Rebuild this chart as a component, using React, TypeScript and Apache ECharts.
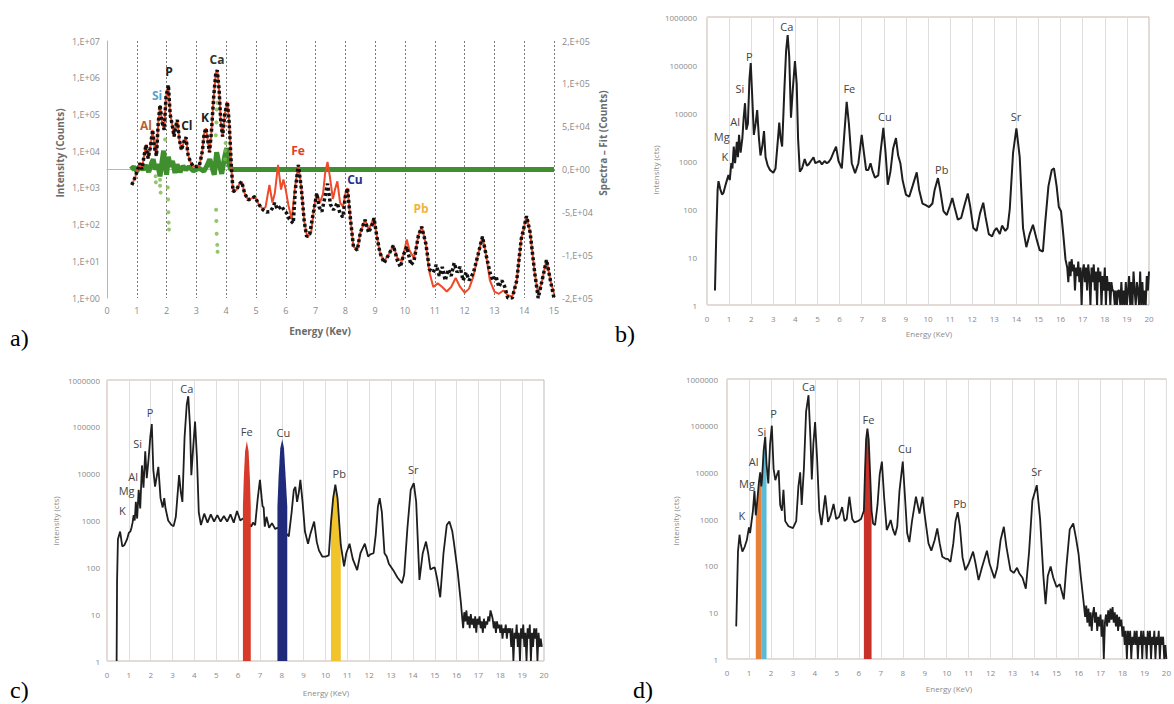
import React, { useEffect, useRef } from 'react';
import * as echarts from 'echarts';

// ---------- Panel a: measured spectrum, fit, residual ----------
const aMeasured: number[][] = [
  [0.83, 1200], [0.9, 1600], [0.95, 2000], [1.02, 3000], [1.1, 4700], [1.17, 3200], [1.24, 7000], [1.31, 15000],
  [1.38, 6300], [1.45, 12000], [1.53, 38000], [1.6, 12000], [1.66, 7400], [1.72, 60000], [1.78, 180000], [1.85, 60000],
  [1.92, 38000], [1.98, 300000], [2.06, 630000], [2.12, 100000], [2.18, 57000], [2.25, 25000], [2.3, 45000], [2.36, 71000],
  [2.43, 20000], [2.5, 10700], [2.58, 18000], [2.65, 24000], [2.72, 8000], [2.8, 5100], [2.9, 3800], [3.0, 3800],
  [3.1, 4000], [3.2, 10000], [3.26, 30000], [3.32, 42000], [3.38, 20000], [3.44, 9300], [3.5, 30000], [3.58, 300000],
  [3.65, 1300000], [3.7, 1600000], [3.76, 500000], [3.82, 60000], [3.88, 25000], [3.95, 100000], [4.04, 220000], [4.1, 60000],
  [4.18, 3100], [4.23, 790], [4.35, 900], [4.45, 1300], [4.52, 1480], [4.62, 700], [4.74, 470], [4.85, 520],
  [4.96, 575], [5.1, 350], [5.24, 250], [5.35, 220], [5.47, 225], [5.55, 280], [5.63, 390], [5.72, 260],
  [5.86, 320], [5.95, 240], [6.03, 205], [6.12, 140], [6.25, 108], [6.32, 900], [6.42, 4200], [6.52, 1000],
  [6.62, 120], [6.7, 47], [6.8, 55], [6.92, 200], [7.04, 710], [7.12, 300], [7.21, 225], [7.3, 500],
  [7.4, 1300], [7.5, 350], [7.6, 250], [7.73, 390], [7.82, 200], [7.92, 160], [8.0, 600], [8.07, 980],
  [8.15, 200], [8.27, 25], [8.4, 20], [8.5, 60], [8.66, 135], [8.78, 60], [8.9, 100], [8.96, 150],
  [9.05, 50], [9.16, 17], [9.3, 9], [9.45, 15], [9.61, 27], [9.75, 10], [9.85, 7], [9.95, 15],
  [10.06, 25], [10.2, 8], [10.3, 10], [10.45, 50], [10.56, 87], [10.7, 30], [10.82, 6], [10.95, 5],
  [11.05, 8], [11.15, 4], [11.25, 7], [11.35, 3], [11.45, 6], [11.55, 4], [11.65, 9], [11.75, 5],
  [11.85, 7], [11.95, 3], [12.05, 5], [12.15, 3], [12.3, 5], [12.45, 15], [12.6, 47], [12.72, 15],
  [12.85, 5], [12.95, 3], [13.05, 4], [13.15, 2], [13.25, 3], [13.35, 2], [13.45, 1], [13.6, 1],
  [13.75, 3], [13.9, 40], [14.08, 170], [14.2, 60], [14.35, 5], [14.47, 1], [14.6, 3], [14.75, 11],
  [14.88, 3], [15.0, 1]
];
const aFit: number[][] = [
  [0.83, 1200], [0.9, 1600], [0.95, 2000], [1.02, 3000], [1.1, 4700], [1.17, 3200], [1.24, 7000], [1.31, 15000],
  [1.38, 6300], [1.45, 12000], [1.53, 38000], [1.6, 12000], [1.66, 7400], [1.72, 60000], [1.78, 180000], [1.85, 60000],
  [1.92, 38000], [1.98, 300000], [2.06, 630000], [2.12, 100000], [2.18, 57000], [2.25, 25000], [2.3, 45000], [2.36, 71000],
  [2.43, 20000], [2.5, 10700], [2.58, 18000], [2.65, 24000], [2.72, 8000], [2.8, 5100], [2.9, 3800], [3.0, 3800],
  [3.1, 4000], [3.2, 10000], [3.26, 30000], [3.32, 42000], [3.38, 20000], [3.44, 9300], [3.5, 30000], [3.58, 300000],
  [3.65, 1300000], [3.7, 1600000], [3.76, 500000], [3.82, 60000], [3.88, 25000], [3.95, 100000], [4.04, 220000], [4.1, 60000],
  [4.18, 3100], [4.23, 790], [4.35, 900], [4.45, 1300], [4.52, 1480], [4.62, 700], [4.74, 470], [4.85, 520],
  [4.96, 575], [5.1, 350], [5.24, 260], [5.32, 300], [5.45, 1200], [5.55, 400], [5.63, 700], [5.74, 4200],
  [5.84, 900], [5.92, 1700], [6.0, 870], [6.1, 300], [6.2, 140], [6.3, 900], [6.42, 4200], [6.52, 1000],
  [6.62, 120], [6.72, 45], [6.85, 60], [6.95, 300], [7.04, 710], [7.15, 400], [7.25, 700], [7.32, 2500],
  [7.4, 5100], [7.48, 2000], [7.58, 500], [7.65, 900], [7.73, 1500], [7.82, 400], [7.92, 300], [8.0, 700],
  [8.07, 980], [8.15, 200], [8.27, 25], [8.4, 21], [8.5, 60], [8.66, 135], [8.78, 70], [8.9, 120],
  [8.96, 150], [9.05, 50], [9.16, 17], [9.3, 10], [9.45, 15], [9.61, 27], [9.75, 12], [9.9, 10],
  [10.06, 39], [10.15, 20], [10.3, 12], [10.45, 50], [10.56, 90], [10.7, 30], [10.82, 5], [10.95, 2],
  [11.1, 2.5], [11.25, 2], [11.4, 1.5], [11.55, 2], [11.7, 3.5], [11.85, 2], [12.0, 1.4], [12.15, 1.8],
  [12.3, 4], [12.45, 15], [12.6, 47], [12.72, 15], [12.85, 3], [13.0, 1.5], [13.15, 1.3], [13.3, 1.6],
  [13.45, 1.2], [13.6, 1.1], [13.75, 3], [13.9, 40], [14.08, 170], [14.2, 60], [14.35, 5], [14.47, 1.2],
  [14.6, 3], [14.75, 11], [14.88, 3], [15.0, 1.3]
];
const aResidual: number[][] = [
  [0.8, 0], [0.9, 3000], [1.0, -2000], [1.1, 4000], [1.2, 0], [1.3, 5000], [1.4, -3000], [1.5, 8000],
  [1.55, 12000], [1.62, 0], [1.7, 6000], [1.78, -8000], [1.85, 10000], [1.9, 22000], [1.95, 5000], [2.0, -6000],
  [2.06, 15000], [2.12, 3000], [2.2, 10000], [2.28, -4000], [2.35, 6000], [2.45, -3000], [2.55, 4000], [2.65, 0],
  [2.75, 3000], [2.9, -1500], [3.1, 1500], [3.25, -2000], [3.35, 4000], [3.45, 12000], [3.52, 3000], [3.6, -6000],
  [3.68, 20000], [3.75, 8000], [3.85, -5000], [3.95, 15000], [4.02, 25000], [4.08, 8000], [4.15, 0], [15.0, 0]
];
const aResidualDots: number[][] = [
  [1.63, -8000], [1.64, -15000], [1.78, -12000], [1.78, -19000], [1.8, -27000], [1.95, 35000],
  [2.04, -21000], [2.05, -35000], [2.06, -50000], [2.07, -62000], [2.08, -70000],
  [3.65, 40000], [3.67, 55000], [3.68, 70000], [3.7, 78000],
  [3.66, -47000], [3.67, -60000], [3.68, -75000], [3.7, -88000], [3.71, -96000],
  [3.96, 12000], [3.97, 22000], [3.98, 31000]
];
const aPeakLabels = [
  { name: 'Al', value: [1.31, 51000], color: '#b8642e' },
  { name: 'Si', value: [1.68, 320000], color: '#5aa0d0' },
  { name: 'P', value: [2.08, 1450000], color: '#222222' },
  { name: 'Cl', value: [2.68, 49000], color: '#222222' },
  { name: 'K', value: [3.29, 85000], color: '#222222' },
  { name: 'Ca', value: [3.69, 3200000], color: '#333333' },
  { name: 'Fe', value: [6.41, 10700], color: '#e04028' },
  { name: 'Cu', value: [8.32, 1650], color: '#23318f' },
  { name: 'Pb', value: [10.54, 268], color: '#f0b43c' }
];
const aRightTickLabels: Record<string, string> = {
  '150000': '2,E+05', '100000': '1,E+05', '50000': '5,E+04', '0': '0,E+00',
  '-50000': '-5,E+04', '-100000': '-1,E+05', '-150000': '-2,E+05'
};

// ---------- Panel b ----------
const bPeaks: number[][] = [
  [0.36, 2], [0.42, 30], [0.48, 250], [0.52, 380], [0.6, 260], [0.68, 200], [0.75, 220], [0.85, 330],
  [0.97, 510], [1.03, 400], [1.1, 900], [1.15, 700], [1.21, 2000], [1.27, 900], [1.35, 2500], [1.4, 1200],
  [1.45, 3500], [1.52, 1500], [1.6, 3000], [1.66, 8000], [1.72, 16000], [1.78, 4500], [1.85, 6000], [1.92, 50000],
  [1.98, 110000], [2.05, 20000], [2.12, 3500], [2.2, 6000], [2.27, 11500], [2.35, 3000], [2.42, 1300], [2.5, 2000],
  [2.58, 4200], [2.65, 1200], [2.75, 800], [2.85, 650], [3.0, 570], [3.1, 700], [3.2, 2500], [3.27, 6300],
  [3.33, 3000], [3.4, 2000], [3.5, 30000], [3.58, 200000], [3.65, 420000], [3.72, 150000], [3.8, 8000], [3.88, 30000],
  [3.98, 120000], [4.06, 40000], [4.12, 3000], [4.2, 600], [4.3, 700], [4.42, 1100], [4.52, 800], [4.6, 850],
  [4.7, 1000], [4.82, 1200], [4.9, 900], [5.0, 950], [5.1, 1000], [5.2, 850], [5.32, 1000], [5.42, 900],
  [5.5, 950], [5.6, 1100], [5.72, 1500], [5.84, 2000], [5.95, 1000], [6.1, 700], [6.2, 3000], [6.32, 17000],
  [6.42, 6000], [6.55, 900], [6.7, 560], [6.85, 900], [7.0, 3500], [7.1, 1500], [7.2, 650], [7.3, 650],
  [7.4, 900], [7.5, 600], [7.6, 450], [7.75, 500], [7.85, 1500], [7.98, 4900], [8.08, 1500], [8.18, 320],
  [8.3, 600], [8.42, 1800], [8.55, 3000], [8.65, 1300], [8.75, 900], [8.85, 400], [9.0, 200], [9.15, 180],
  [9.3, 300], [9.49, 580], [9.6, 250], [9.75, 130], [9.9, 120], [10.05, 110], [10.2, 130], [10.3, 250],
  [10.45, 440], [10.55, 250], [10.7, 90], [10.85, 75], [11.0, 120], [11.1, 170], [11.2, 110], [11.35, 60],
  [11.5, 65], [11.65, 120], [11.8, 210], [11.9, 120], [12.05, 40], [12.2, 35], [12.35, 80], [12.5, 135],
  [12.6, 70], [12.75, 30], [12.9, 27], [13.0, 35], [13.1, 40], [13.25, 30], [13.35, 45], [13.5, 35],
  [13.6, 40], [13.7, 100], [13.85, 1500], [14.0, 4800], [14.15, 1200], [14.3, 40], [14.45, 16], [14.6, 30],
  [14.75, 47], [14.9, 25], [15.05, 14], [15.2, 13], [15.3, 50], [15.45, 300], [15.6, 650], [15.7, 700],
  [15.82, 300], [15.92, 110], [16.02, 90], [16.12, 30], [16.22, 9]
];
const bNoise: number[][] = [
  [16.3, 6], [16.35, 3], [16.4, 8], [16.45, 4], [16.5, 9], [16.55, 5], [16.6, 7], [16.65, 2], [16.7, 6], [16.75, 4],
  [16.8, 8], [16.85, 3], [16.9, 6], [16.95, 1], [17.0, 5], [17.05, 7], [17.1, 3], [17.15, 6], [17.2, 2], [17.25, 7],
  [17.3, 4], [17.35, 1], [17.4, 6], [17.45, 3], [17.5, 7], [17.55, 2], [17.6, 5], [17.65, 1], [17.7, 6], [17.75, 3],
  [17.8, 5], [17.85, 1], [17.9, 4], [17.95, 2], [18.0, 6], [18.05, 1], [18.1, 4], [18.15, 2], [18.2, 3], [18.25, 1],
  [18.3, 3], [18.35, 2], [18.4, 2], [18.45, 1], [18.5, 2], [18.55, 1], [18.6, 2], [18.65, 2], [18.7, 1], [18.75, 3],
  [18.8, 1], [18.85, 2], [18.9, 1], [18.95, 3], [19.0, 1], [19.05, 2], [19.1, 4], [19.15, 1], [19.2, 3], [19.25, 1],
  [19.3, 5], [19.35, 2], [19.4, 1], [19.45, 3], [19.5, 2], [19.55, 1], [19.6, 5], [19.65, 1], [19.7, 3], [19.75, 1],
  [19.8, 2], [19.85, 1], [19.9, 4], [19.95, 2], [20.0, 5]
];
const bPeakLabels = [
  { name: 'Ca', value: [3.61, 630000] }, { name: 'P', value: [1.91, 148000] }, { name: 'Si', value: [1.49, 33000] },
  { name: 'Al', value: [1.27, 6600] }, { name: 'Mg', value: [0.67, 3200] }, { name: 'K', value: [0.81, 1230] },
  { name: 'Fe', value: [6.44, 32600] }, { name: 'Cu', value: [8.05, 8400] }, { name: 'Pb', value: [10.62, 650] },
  { name: 'Sr', value: [13.98, 8400] }
];

// ---------- Panel c ----------
const cPeaks: number[][] = [
  [0.44, 1], [0.46, 50], [0.5, 400], [0.6, 580], [0.7, 280], [0.8, 300], [0.92, 400], [1.0, 550],
  [1.07, 580], [1.12, 700], [1.17, 900], [1.22, 1300], [1.27, 1000], [1.32, 2500], [1.38, 1100], [1.45, 4500],
  [1.52, 1800], [1.6, 15000], [1.67, 5000], [1.75, 30000], [1.82, 8000], [1.9, 20000], [1.98, 60000], [2.05, 115000],
  [2.12, 12000], [2.2, 5300], [2.28, 9000], [2.35, 14000], [2.45, 3000], [2.55, 1900], [2.62, 3000], [2.68, 1800],
  [2.8, 1000], [2.95, 800], [3.05, 760], [3.15, 1200], [3.3, 9300], [3.38, 4000], [3.45, 2500], [3.55, 60000],
  [3.65, 300000], [3.72, 450000], [3.8, 100000], [3.86, 9300], [3.95, 40000], [4.03, 130000], [4.12, 20000], [4.2, 1500],
  [4.3, 800], [4.45, 1400], [4.6, 900], [4.75, 1350], [4.9, 950], [5.05, 1300], [5.2, 950], [5.35, 1250],
  [5.5, 950], [5.65, 1350], [5.8, 900], [5.95, 1600], [6.1, 1000], [6.22, 1100], [6.4, 1000], [6.6, 740],
  [6.68, 900], [6.78, 800], [6.9, 3000], [7.0, 7400], [7.08, 3000], [7.12, 2000], [7.17, 1900], [7.22, 740],
  [7.3, 1200], [7.42, 700], [7.55, 880], [7.7, 660], [7.8, 700], [8.0, 600], [8.25, 500], [8.32, 460],
  [8.45, 1500], [8.55, 4500], [8.62, 5200], [8.7, 2500], [8.78, 4000], [8.85, 7400], [8.95, 2500], [9.06, 580],
  [9.2, 320], [9.3, 500], [9.48, 950], [9.6, 350], [9.7, 230], [9.85, 170], [10.0, 170], [10.15, 180],
  [10.25, 900], [10.35, 3000], [10.45, 5800], [10.55, 3000], [10.7, 300], [10.85, 105], [10.95, 200], [11.1, 320],
  [11.25, 150], [11.45, 87], [11.6, 200], [11.8, 320], [11.95, 170], [12.05, 190], [12.2, 200], [12.3, 500],
  [12.4, 2000], [12.48, 3000], [12.58, 1500], [12.7, 200], [12.8, 170], [12.9, 120], [13.1, 87], [13.3, 60],
  [13.5, 46], [13.6, 70], [13.75, 700], [13.9, 4500], [14.04, 6300], [14.15, 2500], [14.3, 54], [14.45, 200],
  [14.6, 355], [14.7, 200], [14.8, 90], [14.9, 96], [15.0, 100], [15.1, 60], [15.25, 23], [15.4, 200],
  [15.55, 800], [15.67, 950], [15.8, 600], [15.88, 330], [16.05, 80], [16.2, 17]
];
const cNoise: number[][] = [
  [16.25, 9], [16.3, 5], [16.35, 11], [16.4, 7], [16.45, 12], [16.5, 6], [16.55, 9], [16.6, 5], [16.65, 10], [16.7, 6],
  [16.75, 8], [16.8, 5], [16.85, 9], [16.9, 4], [16.95, 8], [17.0, 6], [17.05, 9], [17.1, 5], [17.15, 7], [17.2, 4],
  [17.25, 8], [17.3, 5], [17.35, 7], [17.4, 6], [17.45, 9], [17.5, 7], [17.55, 12], [17.6, 10], [17.65, 8], [17.7, 5],
  [17.75, 7], [17.8, 4], [17.85, 7], [17.9, 5], [17.95, 6], [18.0, 4], [18.05, 6], [18.1, 3], [18.15, 5], [18.2, 4],
  [18.25, 6], [18.3, 3], [18.35, 5], [18.4, 4], [18.45, 5], [18.5, 2], [18.55, 5], [18.6, 1], [18.65, 4], [18.7, 3],
  [18.75, 6], [18.8, 2], [18.85, 4], [18.9, 1], [18.95, 5], [19.0, 3], [19.05, 6], [19.1, 2], [19.15, 4], [19.2, 1],
  [19.25, 5], [19.3, 3], [19.35, 6], [19.4, 1], [19.45, 4], [19.5, 2], [19.55, 5], [19.6, 3], [19.65, 5], [19.7, 1],
  [19.75, 4], [19.8, 2], [19.85, 3], [19.9, 2]
];
const cFeBand: number[][] = [
  [6.22, 1], [6.22, 2000], [6.26, 8000], [6.32, 30000], [6.4, 50000], [6.48, 30000], [6.54, 8000], [6.58, 2000], [6.58, 1]
];
const cCuBand: number[][] = [
  [7.8, 1], [7.8, 2000], [7.85, 8000], [7.93, 35000], [8.02, 54000], [8.1, 35000], [8.18, 8000], [8.25, 2000], [8.25, 1]
];
const cPbBand: number[][] = [
  [10.25, 1], [10.25, 900], [10.35, 3000], [10.45, 5800], [10.55, 3000], [10.7, 300], [10.7, 1]
];
const cPeakLabels = [
  { name: 'Ca', value: [3.65, 670000] }, { name: 'P', value: [1.97, 203000] }, { name: 'Si', value: [1.4, 43000] },
  { name: 'Al', value: [1.2, 8700] }, { name: 'Mg', value: [0.9, 4360] }, { name: 'K', value: [0.7, 1630] },
  { name: 'Fe', value: [6.39, 79000] }, { name: 'Cu', value: [8.07, 74000] }, { name: 'Pb', value: [10.63, 10200] },
  { name: 'Sr', value: [14.02, 12500] }
];

// ---------- Panel d ----------
const dPeaks: number[][] = [
  [0.42, 5], [0.5, 200], [0.57, 460], [0.62, 300], [0.7, 200], [0.8, 250], [0.9, 350], [1.0, 660],
  [1.05, 500], [1.12, 900], [1.18, 1500], [1.25, 4000], [1.31, 1200], [1.38, 2500], [1.45, 6000], [1.51, 10000],
  [1.56, 5000], [1.58, 6000], [1.6, 8000], [1.67, 30000], [1.74, 58000], [1.8, 15000], [1.88, 5800], [1.96, 40000],
  [2.04, 100000], [2.12, 12000], [2.2, 6800], [2.28, 9000], [2.35, 11000], [2.42, 2000], [2.5, 1500], [2.57, 4200],
  [2.65, 900], [2.8, 700], [3.0, 640], [3.15, 900], [3.25, 5000], [3.33, 10000], [3.4, 2000], [3.5, 12000],
  [3.6, 200000], [3.71, 450000], [3.8, 50000], [3.86, 7000], [3.93, 40000], [4.01, 120000], [4.1, 20000], [4.2, 1500],
  [4.3, 740], [4.47, 3200], [4.6, 870], [4.72, 1200], [4.85, 2100], [4.97, 1000], [5.1, 1100], [5.24, 1800],
  [5.35, 900], [5.45, 1000], [5.57, 3000], [5.7, 1000], [5.8, 850], [5.95, 900], [6.1, 1000], [6.23, 1500],
  [6.28, 10000], [6.33, 50000], [6.39, 87000], [6.45, 50000], [6.52, 8000], [6.58, 1500], [6.65, 800], [6.74, 740],
  [6.85, 2000], [6.95, 9000], [7.05, 17000], [7.15, 3000], [7.27, 580], [7.35, 700], [7.45, 950], [7.55, 600],
  [7.65, 450], [7.75, 700], [7.85, 4000], [8.0, 17000], [8.1, 3000], [8.2, 500], [8.3, 320], [8.42, 900],
  [8.6, 3000], [8.68, 2000], [8.76, 1300], [8.9, 3000], [9.0, 1200], [9.17, 300], [9.3, 210], [9.45, 350],
  [9.57, 630], [9.68, 300], [9.8, 155], [9.95, 140], [10.05, 140], [10.17, 120], [10.3, 300], [10.4, 900],
  [10.5, 1400], [10.6, 700], [10.72, 150], [10.85, 80], [11.0, 110], [11.2, 200], [11.3, 120], [11.45, 49],
  [11.6, 90], [11.83, 210], [11.95, 110], [12.17, 54], [12.3, 90], [12.45, 350], [12.6, 680], [12.72, 250],
  [12.9, 80], [13.05, 70], [13.2, 90], [13.3, 69], [13.45, 55], [13.6, 32], [13.75, 200], [13.9, 2500],
  [14.1, 5300], [14.25, 1000], [14.4, 60], [14.5, 15], [14.6, 60], [14.73, 96], [14.85, 55], [15.0, 35],
  [15.15, 40], [15.33, 19], [15.45, 100], [15.6, 600], [15.76, 800], [15.88, 400], [16.0, 180], [16.1, 60],
  [16.24, 15]
];
const dNoise: number[][] = [
  [16.3, 8], [16.35, 14], [16.4, 6], [16.45, 12], [16.5, 5], [16.55, 10], [16.6, 4], [16.65, 9], [16.7, 13], [16.75, 6],
  [16.8, 10], [16.85, 4], [16.9, 8], [16.95, 5], [17.0, 9], [17.05, 3], [17.1, 7], [17.15, 1], [17.2, 6], [17.25, 9],
  [17.3, 5], [17.35, 11], [17.4, 6], [17.45, 12], [17.5, 7], [17.55, 13], [17.6, 6], [17.65, 10], [17.7, 5], [17.75, 9],
  [17.8, 4], [17.85, 8], [17.9, 5], [17.95, 7], [18.0, 3], [18.05, 5], [18.1, 2], [18.15, 4], [18.2, 1], [18.25, 4],
  [18.3, 2], [18.35, 4], [18.4, 1], [18.45, 3], [18.5, 2], [18.55, 4], [18.6, 2], [18.65, 4], [18.7, 1], [18.75, 3],
  [18.8, 2], [18.85, 4], [18.9, 1], [18.95, 4], [19.0, 2], [19.05, 3], [19.1, 1], [19.15, 4], [19.2, 2], [19.25, 4],
  [19.3, 1], [19.35, 3], [19.4, 2], [19.45, 4], [19.5, 1], [19.55, 3], [19.6, 2], [19.65, 4], [19.7, 1], [19.75, 3],
  [19.8, 2], [19.85, 3], [19.9, 1], [19.95, 2], [20.0, 1]
];
const dAlBand: number[][] = [
  [1.31, 1], [1.31, 1200], [1.38, 2500], [1.45, 6000], [1.51, 10000], [1.56, 5000], [1.58, 6000], [1.58, 1]
];
const dSiBand: number[][] = [
  [1.58, 1], [1.58, 6000], [1.6, 8000], [1.67, 30000], [1.74, 58000], [1.8, 15000], [1.8, 1]
];
const dFeBand: number[][] = [
  [6.23, 1], [6.23, 1500], [6.28, 10000], [6.33, 50000], [6.39, 87000], [6.45, 50000], [6.52, 8000], [6.58, 1500], [6.58, 1]
];
const dPeakLabels = [
  { name: 'Ca', value: [3.71, 680000] }, { name: 'P', value: [2.12, 182000] }, { name: 'Si', value: [1.59, 74000] },
  { name: 'Al', value: [1.21, 16700] }, { name: 'Mg', value: [0.91, 5800] }, { name: 'K', value: [0.68, 1210] },
  { name: 'Fe', value: [6.44, 135000] }, { name: 'Cu', value: [8.1, 32400] }, { name: 'Pb', value: [10.6, 2150] },
  { name: 'Sr', value: [14.09, 10200] }
];

const FONT = '"Open Sans", "Liberation Sans", sans-serif';
const AXIS_GRAY = '#8a8a8a';
const BORDER = '#c9b7ae';

function bandSeries(data: number[][], xi: number, yi: number, color: string, z: number) {
  return {
    type: 'line',
    xAxisIndex: xi,
    yAxisIndex: yi,
    data,
    showSymbol: false,
    z,
    lineStyle: { width: 0, color },
    itemStyle: { color },
    areaStyle: { color, opacity: 1, origin: 'start' }
  };
}

function logAxis(gridIndex: number, max: number, margin: number, fmt: (v: number) => string, showLine: boolean, size: number) {
  return {
    type: 'log',
    logBase: 10,
    gridIndex,
    min: 1,
    max,
    axisLine: { show: showLine, lineStyle: { color: '#bfb3ad' } },
    axisTick: { show: false },
    splitLine: { show: false },
    axisLabel: { color: AXIS_GRAY, fontSize: size, fontFamily: FONT, margin, formatter: fmt }
  };
}

function energyAxis(gridIndex: number, max: number, dotted: boolean, margin: number, size: number) {
  return {
    type: 'value',
    gridIndex,
    min: 0,
    max,
    interval: 1,
    axisLine: { show: dotted, lineStyle: { color: '#bfb3ad' } },
    axisTick: { show: false },
    splitLine: dotted
      ? { show: true, lineStyle: { color: '#7a7a7a', type: [2, 2], width: 1 } }
      : { show: true, lineStyle: { color: '#dedede', width: 1 } },
    axisLabel: { color: AXIS_GRAY, fontSize: size, fontFamily: FONT, margin }
  };
}

function vText(text: string, x: number, y: number, font: string, fill: string) {
  return {
    type: 'text',
    x,
    y,
    rotation: Math.PI / 2,
    style: { text, font, fill, textAlign: 'center', textVerticalAlign: 'middle', align: 'center', verticalAlign: 'middle' }
  };
}
function hText(text: string, x: number, y: number, font: string, fill: string, align = 'center') {
  return {
    type: 'text',
    x,
    y,
    z: 100,
    style: { text, font, fill, textAlign: align, textVerticalAlign: 'middle', align, verticalAlign: 'middle' }
  };
}

export default function App() {
  const ref = useRef<HTMLDivElement>(null);
  useEffect(() => {
    document.body.style.margin = '0';
    if (!ref.current) return;
    const chart = echarts.init(ref.current, undefined, { renderer: 'svg' });
    const plainFmt = (v: number) => String(Math.round(v));
    const expFmt = (v: number) => '1,E+' + String(Math.round(Math.log10(v))).padStart(2, '0');
    const option: any = {
      animation: false,
      backgroundColor: '#ffffff',
      grid: [
        { left: 107, top: 41, width: 447, height: 257 },
        { left: 707, top: 17, width: 442, height: 288, show: true, borderColor: BORDER, borderWidth: 1 },
        { left: 107, top: 380, width: 437, height: 281, show: true, borderColor: BORDER, borderWidth: 1 },
        { left: 727, top: 379, width: 440, height: 280, show: true, borderColor: BORDER, borderWidth: 1 }
      ],
      xAxis: [
        energyAxis(0, 15, true, 8, 9),
        energyAxis(1, 20, false, 9, 8),
        energyAxis(2, 20, false, 9, 8),
        energyAxis(3, 20, false, 9, 8)
      ],
      yAxis: [
        logAxis(0, 1e7, 7, expFmt, true, 9),
        {
          type: 'value',
          gridIndex: 0,
          position: 'right',
          min: -150000,
          max: 150000,
          interval: 50000,
          axisLine: { show: false },
          axisTick: { show: false },
          splitLine: { show: false },
          axisLabel: {
            color: AXIS_GRAY,
            fontSize: 9,
            fontFamily: FONT,
            margin: 8,
            formatter: (v: number) => aRightTickLabels[String(Math.round(v))] ?? ''
          }
        },
        logAxis(1, 1e6, 10, plainFmt, false, 8),
        logAxis(2, 1e6, 7, plainFmt, false, 8),
        logAxis(3, 1e6, 9, plainFmt, false, 8)
      ],
      series: [
        // panel a
        {
          type: 'line', xAxisIndex: 0, yAxisIndex: 1, data: aResidual, showSymbol: false, z: 1,
          lineStyle: { color: '#3f8f2f', width: 5 }, itemStyle: { color: '#3f8f2f' }
        },
        {
          type: 'scatter', xAxisIndex: 0, yAxisIndex: 1, data: aResidualDots, symbolSize: 4, z: 1,
          itemStyle: { color: '#7ab648' }
        },
        {
          type: 'line', xAxisIndex: 0, yAxisIndex: 0, data: aFit, showSymbol: false, z: 2,
          lineStyle: { color: '#ef4a2a', width: 2 }, itemStyle: { color: '#ef4a2a' }
        },
        {
          type: 'line', xAxisIndex: 0, yAxisIndex: 0, data: aMeasured, showSymbol: false, z: 3,
          lineStyle: { color: '#111111', width: 3.5, type: [3, 2.5] }, itemStyle: { color: '#111111' }
        },
        // panel b
        {
          type: 'line', xAxisIndex: 1, yAxisIndex: 2, data: [...bPeaks, ...bNoise], showSymbol: false, z: 2,
          lineStyle: { color: '#1e1e1e', width: 2 }, itemStyle: { color: '#1e1e1e' }
        },
        // panel c
        bandSeries(cPbBand, 2, 3, '#f2c42c', 1),
        {
          type: 'line', xAxisIndex: 2, yAxisIndex: 3, data: [...cPeaks, ...cNoise], showSymbol: false, z: 2,
          lineStyle: { color: '#1e1e1e', width: 1.8 }, itemStyle: { color: '#1e1e1e' }
        },
        bandSeries(cFeBand, 2, 3, '#d83a2a', 3),
        bandSeries(cCuBand, 2, 3, '#1f2a7a', 3),
        // panel d
        bandSeries(dAlBand, 3, 4, '#e8803a', 1),
        bandSeries(dSiBand, 3, 4, '#5bbad5', 1),
        bandSeries(dFeBand, 3, 4, '#c8302a', 1),
        {
          type: 'line', xAxisIndex: 3, yAxisIndex: 4, data: [...dPeaks, ...dNoise], showSymbol: false, z: 2,
          lineStyle: { color: '#1e1e1e', width: 1.8 }, itemStyle: { color: '#1e1e1e' }
        }
      ]
    };
    chart.setOption(option);

    const peakTexts: any[] = [];
    const addLabels = (labels: any[], xi: number, yi: number, font: string, defColor: string) => {
      labels.forEach((l) => {
        const p = chart.convertToPixel({ xAxisIndex: xi, yAxisIndex: yi } as any, l.value) as number[];
        if (p && isFinite(p[0]) && isFinite(p[1])) {
          peakTexts.push(hText(l.name, p[0], p[1], font, l.color || defColor));
        }
      });
    };
    addLabels(aPeakLabels, 0, 0, 'bold 12px ' + FONT, '#222222');
    addLabels(bPeakLabels, 1, 2, '11px ' + FONT, '#444444');
    addLabels(cPeakLabels, 2, 3, '11px ' + FONT, '#444444');
    addLabels(dPeakLabels, 3, 4, '11px ' + FONT, '#444444');

    chart.setOption({
      graphic: [
        hText('a)', 10, 338, '24px "Liberation Serif", serif', '#000000', 'left'),
        hText('b)', 615, 334, '24px "Liberation Serif", serif', '#000000', 'left'),
        hText('c)', 10, 690, '24px "Liberation Serif", serif', '#000000', 'left'),
        hText('d)', 633, 690, '24px "Liberation Serif", serif', '#000000', 'left'),
        vText('Intensity (Counts)', 60, 153, 'bold 10px ' + FONT, '#6b6b6b'),
        vText('Spectra – Fit (Counts)', 603, 143, 'bold 10px ' + FONT, '#6b6b6b'),
        hText('Energy (Kev)', 320, 331, 'bold 10px ' + FONT, '#6b6b6b'),
        vText('Intensity (cts)', 655, 170, '8px ' + FONT, '#8a8a8a'),
        hText('Energy (KeV)', 929, 333, '8px ' + FONT, '#8a8a8a'),
        vText('Intensity (cts)', 55, 521, '8px ' + FONT, '#8a8a8a'),
        hText('Energy (KeV)', 326, 692, '8px ' + FONT, '#8a8a8a'),
        vText('Intensity (cts)', 675, 521, '8px ' + FONT, '#8a8a8a'),
        hText('Energy (KeV)', 949, 688, '8px ' + FONT, '#8a8a8a'),
        ...peakTexts
      ]
    });
    return () => chart.dispose();
  }, []);
  return <div ref={ref} style={{ width: 1174, height: 704 }} />;
}
